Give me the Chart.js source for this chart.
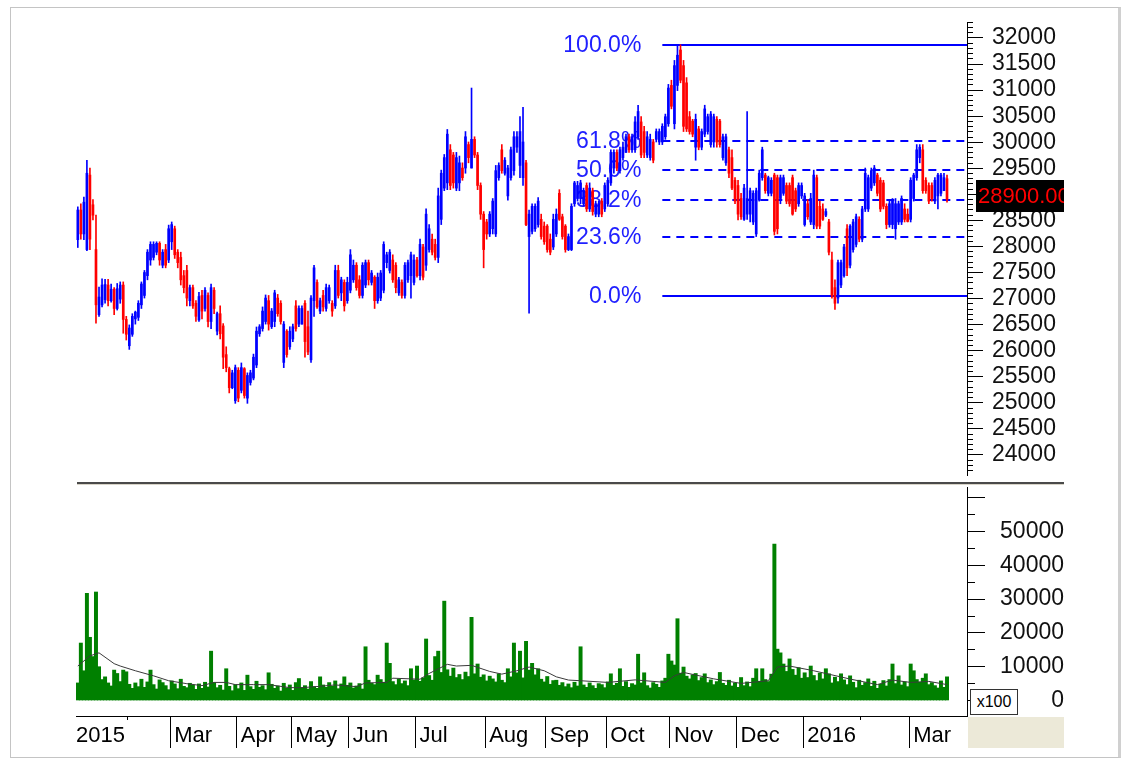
<!DOCTYPE html>
<html><head><meta charset="utf-8">
<script src="https://cdn.jsdelivr.net/npm/chart.js@4.4.1/dist/chart.umd.min.js"></script>
<style>
html,body{margin:0;padding:0;background:#fff;}
#wrap{position:relative;width:1125px;height:767px;overflow:hidden;background:#fff;}
canvas{position:absolute;left:0;top:0;}
#frame{position:absolute;left:10px;top:7px;width:1111px;height:751px;border:1px solid #c4c4c4;border-right:3px solid #d0d0d0;box-sizing:border-box;}
#divider{position:absolute;left:77px;top:482px;width:987px;height:2px;background:#4a4a4a;}
#divider2{position:absolute;left:77px;top:484px;width:987px;height:1px;background:#d8d4c8;}
#corner{position:absolute;left:968px;top:717px;width:96px;height:31px;background:#ECE9D8;}
#unit{position:absolute;left:970px;top:689px;width:48px;height:26px;border:1px solid #333;box-sizing:border-box;background:#fff;font:16px 'Liberation Sans';line-height:24px;text-align:center;color:#000;}
</style></head>
<body>
<div id="wrap">
<div id="frame"></div>
<canvas id="c1" width="1125" height="767"></canvas>
<canvas id="c2" width="1125" height="767"></canvas>
<div id="divider"></div><div id="divider2"></div>
<div id="corner"></div>
<div id="unit">x100</div>
</div>
<script>
// ---------- data ----------
const openP = [
28130,28700,28240,27940,29370,28800,27940,26690,26880,26980,
27260,26960,27180,26810,26990,27260,26600,26095,26315,26610,
26640,26880,27060,27440,27740,27790,27890,28060,27640,27940,
27740,28090,28340,27890,27790,27440,27540,26960,27210,26910,
26590,27060,26810,27060,26560,27160,26375,26710,26475,25925,
25655,25290,25040,25625,25240,25655,25090,25390,25475,25725,
26325,26425,26560,26960,26460,26560,27010,26910,25775,26375,
26075,26225,26860,26510,26510,26910,26460,25825,26960,27310,
26760,27060,26810,26960,26910,26860,27540,27110,27310,26960,
27160,27360,27640,27360,27060,27260,27690,27310,27410,26960,
27010,27160,27690,27540,27740,27640,27110,27310,27060,27360,
27440,27310,27740,27440,27990,27640,27940,28140,28040,27790,
28520,29120,29220,29855,29755,29120,29220,29505,29505,29955,
29505,30055,29755,29170,28620,28470,28240,28340,28240,29320,
29855,29405,28970,29320,29455,29905,29555,29320,29605,28190,
28290,28340,28420,28520,28390,28390,28140,27990,28240,29020,
28570,28390,27940,27940,28820,28920,28920,28820,29170,28720,
29070,28620,28620,28870,28720,28820,29220,29505,29805,29455,
29705,29805,30105,29855,29855,30105,30390,30205,29755,29705,
30005,30055,30005,30005,30105,30355,31090,30355,31090,31770,
31470,31140,30490,30405,29905,30255,29905,30155,30205,29955,
30005,30440,30405,29705,29605,29855,29705,29270,29170,28920,
28520,28620,28620,28470,28240,28890,29320,29370,29020,29020,
29370,29320,28920,29020,29170,29170,29320,29070,28820,28970,
28420,28820,28470,28420,29320,28770,28720,28600,28470,27740,
27210,27010,27260,27440,28340,27640,27940,28040,28520,28140,
28720,28720,29120,29220,29370,29270,29220,28770,28420,28420,
28340,28470,28470,28720,28620,28520,28920,29320,29705,29855,
29270,29170,29170,28870,28970,29020,29070,29300];
const highP = [
28760,28820,28950,29655,29505,28900,28600,27220,27380,27370,
27370,27280,27210,27290,27320,27320,26660,26495,26710,26760,
26960,27320,27540,27940,28090,28090,28090,28090,27940,28040,
28410,28470,28390,27940,27890,27540,27640,27260,27260,26960,
27120,27160,27210,27110,27280,27210,26740,26860,26520,26075,
25685,25625,25725,25675,25765,25675,25575,25625,25935,26455,
26500,26840,27070,27060,26810,27160,27080,26960,26560,26405,
26460,26510,26960,26860,26860,26960,26760,27060,27640,27360,
27010,27160,27280,27260,26960,27640,27640,27410,27360,27410,
27940,27740,27690,27440,27690,27740,27740,27540,27440,27490,
27540,28090,27890,27940,27840,27690,27410,27360,27690,27740,
27890,27840,27790,28140,28040,28720,28420,28240,28140,29120,
29465,29765,30245,29955,29805,29805,29735,29605,30205,30005,
31040,30105,29805,29220,28670,28520,28670,28920,29555,29605,
29955,29705,29555,29905,30205,30205,30490,30670,29655,28700,
28820,28820,28940,28620,28470,28420,28240,28620,28720,29090,
28620,28420,28240,28820,29250,29250,29270,29120,29220,29220,
29120,28870,28870,28920,29220,29320,29855,29855,29855,29905,
30005,30155,30155,30155,30490,30710,30490,30305,30205,30155,
30055,30255,30255,30355,30540,31110,31190,31570,31870,31870,
31570,31240,30590,30440,30540,30305,30255,30710,30540,30590,
30540,30490,30440,30155,30155,29905,29855,29320,29270,29020,
29190,30590,29120,29070,29120,29465,29905,29405,29350,29320,
29405,29370,29370,29370,29220,29220,29370,29120,29220,29220,
29020,28900,29020,29465,29370,28870,28820,28720,28520,27890,
27360,27740,27740,28040,28420,28420,28520,28620,28570,28770,
29505,29370,29505,29555,29405,29320,29270,28820,28900,28920,
28920,28870,28970,28820,28720,29320,29405,29955,29955,29955,
29320,29220,29220,29320,29405,29405,29405,29370];
const lowP = [
27980,28140,28130,27920,27940,28510,26530,26660,26840,26910,
26860,26930,26690,26780,26910,26335,26205,26025,26275,26510,
26580,26810,27010,27360,27640,27740,27840,27640,27590,27590,
27690,27940,27770,27590,27260,27110,26860,26860,26810,26560,
26560,26610,26760,26455,26425,26710,26305,26225,25655,25595,
25190,25270,24990,25020,25190,25090,24990,25340,25440,25675,
26275,26375,26510,26395,26425,26460,26660,26510,25675,25875,
26025,26175,26375,26460,26510,25875,25925,25775,26660,26810,
26710,26760,26760,26910,26660,26810,27010,26960,26760,26910,
27110,27310,27160,27010,27010,27210,27260,27260,26810,26910,
26960,27110,27590,27490,27310,27110,27060,27010,27010,27310,
27010,27260,27410,27360,27360,27540,27890,27840,27740,27690,
28420,29070,29090,29090,29120,29070,29070,29270,29405,29605,
29505,29705,29090,28520,27590,28140,28190,28240,28190,29270,
29405,29370,28890,29270,29370,29805,29320,29170,28400,26720,
28240,28290,28370,28140,28040,27890,27840,27940,28190,28500,
28140,27890,27920,27920,28770,28870,28820,28770,28670,28670,
28600,28570,28570,28570,28670,28770,29170,29405,29455,29405,
29655,29805,29805,29805,29805,30055,29705,29705,29705,29655,
29605,30005,29955,29955,30055,30305,30640,30255,30990,31140,
30205,30205,30155,30105,29655,29855,29855,30105,30155,29905,
29905,29905,29905,29655,29555,29320,29090,28820,28510,28520,
28500,28520,28470,28420,28190,28870,29270,29020,28970,28970,
28220,28240,28820,28980,28820,28770,28600,28670,28770,28920,
28390,28520,28420,28340,28340,28340,28500,28570,27840,27010,
26790,26910,27210,27410,27440,27590,27890,27990,28090,28090,
28670,28670,29070,29170,28970,28670,28720,28340,28370,28340,
28140,28420,28420,28470,28470,28470,28870,29270,29605,29020,
29020,28820,28870,28820,28720,28970,29070,28850];
const closeP = [
28700,28240,28850,29405,28140,28600,26880,27030,27260,27270,
26960,27180,26810,27190,27260,26600,26315,26435,26660,26740,
26910,27280,27500,27890,28040,28040,28060,27740,27890,27640,
28340,28420,27840,27690,27360,27210,27010,27210,26860,26660,
27040,26760,27160,26560,27210,26810,26710,26325,25875,25675,
25290,25575,25675,25090,25675,25140,25525,25575,25875,26375,
26460,26760,27010,26510,26760,27110,26710,26560,26510,25925,
26375,26460,26425,26810,26810,26175,25975,27010,27590,26840,
26960,26840,27210,27210,26760,27540,27060,27360,26860,27310,
27840,27640,27210,27060,27640,27690,27360,27490,26960,27410,
27490,28040,27840,27890,27360,27210,27360,27060,27640,27690,
27840,27740,27440,28040,27410,28620,28340,27890,27790,28970,
29405,29705,30155,29170,29220,29705,29605,29320,30105,29705,
30055,29755,29170,28620,27940,28240,28620,28870,29455,29555,
29455,29655,29505,29855,30105,30105,30205,30005,28420,28620,
28770,28770,28870,28190,28090,27940,27890,28520,28620,28520,
28190,27940,28190,28770,29220,29170,29220,29070,28720,29120,
28670,28820,28820,28620,29170,29270,29805,29805,29505,29855,
29905,30105,29855,30105,30390,30590,29755,29805,30105,30055,
29655,30205,30205,30305,30490,31040,30690,31470,31670,31190,
30305,30255,30205,30155,30440,29905,30205,30640,30490,30540,
30490,30005,29955,30105,30105,29405,29120,28870,28620,28570,
29120,28920,29070,29020,29070,29405,29855,29070,29320,29270,
28290,28340,29320,29320,28870,28820,28620,28720,29170,29170,
28970,28570,28920,29370,28390,28390,28520,28670,27890,27060,
26910,27690,27690,27990,27590,28390,28470,28570,28140,28720,
29405,29320,29455,29505,29020,28720,28770,28420,28820,28870,
28820,28820,28920,28520,28480,29270,29370,29855,29905,29070,
29070,28870,28920,29270,29370,29370,29320,28900];
const volume = [
5200,17000,8800,31700,18700,13000,32100,10000,6200,7000,5200,4300,9000,8000,5600,9000,8500,4800,3600,5200,
4100,6300,3900,5500,9000,4700,3400,6100,5300,4400,3200,5800,4900,3500,6300,4200,3800,5100,4600,3300,
4900,3600,5400,4000,14600,5300,3800,4500,3100,9400,4200,2900,4700,3500,5200,3000,7500,4100,3300,5700,
3900,4400,3200,8200,4800,3600,4300,2800,5100,3700,4600,3000,5300,6500,3800,4400,3400,5600,4100,3600,
7000,4600,3900,5300,4200,5800,3500,4900,7000,4500,5200,3700,4300,5000,3400,15900,6000,5100,4700,7500,
6200,5400,17000,11000,5600,4700,6300,5000,5800,4400,9400,6100,10200,5700,6700,18200,7400,6000,13000,14600,
8300,29400,9100,7200,9600,6800,7700,6200,8400,7100,24600,7900,10800,6900,7600,5800,7200,6400,5500,7900,
6000,5300,9400,7000,17000,8200,14600,6700,17500,9000,11000,7600,9400,6300,5500,7100,4800,5900,6000,4500,
5300,4100,4900,3800,5400,4300,15900,4600,3900,5200,4400,3600,5000,4700,3800,5500,7900,4500,5100,9400,
4200,5600,3900,5000,4600,13700,5200,8200,4400,3700,5300,4800,3900,5800,6600,13700,11700,10500,24200,8100,
9900,7200,6400,7600,8000,5900,6800,7900,5300,6100,4700,5600,8300,5100,4500,6000,4300,5200,3900,6800,
4400,5500,4100,6600,9400,5700,9400,6200,5600,7800,46300,15200,14100,10800,8600,12300,9200,7500,9700,6600,
8200,6800,10200,7400,5900,8100,6400,9400,7900,5200,6900,5600,7900,6100,4700,7300,5400,3800,6000,4500,
5300,6400,4200,5700,3600,4800,5900,4300,6200,10800,5000,7300,4600,5500,4100,10800,8800,6200,5400,6600,
7900,4700,5300,4400,3700,5800,3900,7000];
// volume moving average, read at these sessions
const maIdx = [0,4,7,12,14,19,25,30,36,41,45,49,52,58,63,70,74,80,85,92,95,102,104,113,116,122,125,130,136,140,145,149,154,158,162,166,175,184,194,197,200,210,219,228,231,235,243,255,264,269,275,281,287];
const maVal = [10200,13200,14100,10900,10200,8800,7300,5850,4970,4400,5350,5350,4700,4700,4700,3800,3800,4200,4600,4100,5200,5350,6600,6300,8000,10700,10200,10400,8600,7800,8800,9900,8800,7000,6050,5850,5350,6100,5350,7300,8300,6400,5060,5850,9900,10200,8800,6350,4700,6050,5350,5650,4700];
// x-axis: first session of each labelled month
const monthTickIdx = [-1.4,31,53,71,90,112,135,155,175,196,218,240,275];
const monthLabels = ['2015','Mar','Apr','May','Jun','Jul','Aug','Sep','Oct','Nov','Dec','2016','Mar'];
const minorMonthIdx = [17,259];
// axis tick labels
const priceTickLabels = [24000,24500,25000,25500,26000,26500,27000,27500,28000,28500,29000,29500,30000,30500,31000,31500,32000];
const volumeTickLabels = [0,10000,20000,30000,40000,50000];
// Fibonacci retracement
const fibHigh = 31870, fibLow = 27050, fibStartIdx = 193;
const fibRatios = [1,0.618,0.5,0.382,0.236,0];
const fibLabels = ['100.0%','61.8%','50.0%','38.2%','23.6%','0.0%'];
const lastPrice = closeP[closeP.length-1];

// ---------- layout constants ----------
const X_MIN = -0.6, X_MAX = 293.6;
const P_MIN = 23615, P_MAX = 32307;
const V_MIN = -4586, V_MAX = 63166;
const FONT = "'Liberation Sans', Arial, sans-serif";
const TRANSP = 'rgba(0,0,0,0)';

function stepTicks(from, to, step){ const t=[]; for(let v=from; v<=to; v+=step) t.push({value:v}); return t; }

const candleColor = closeP.map((c,i) => c >= openP[i] ? '#0000ff' : '#ff0000');

const fibPlugin = {
  id:'fib',
  beforeDatasetsDraw(chart){
    const {ctx, chartArea, scales:{x, y}} = chart;
    const x0 = x.getPixelForValue(fibStartIdx);
    ctx.save();
    ctx.strokeStyle = '#0000ff'; ctx.lineWidth = 2;
    ctx.font = '23px ' + FONT; ctx.fillStyle = '#2020ff';
    ctx.textAlign = 'right'; ctx.textBaseline = 'middle';
    fibRatios.forEach((r,k) => {
      const v = fibLow + r*(fibHigh - fibLow);
      const py = Math.round(y.getPixelForValue(v));
      ctx.setLineDash((r === 0 || r === 1) ? [] : [8,6]);
      ctx.beginPath(); ctx.moveTo(x0, py); ctx.lineTo(chartArea.right, py); ctx.stroke();
      ctx.fillText(fibLabels[k], x0 - 21, py + 1);
    });
    ctx.restore();
  }
};
const tagPlugin = {
  id:'tag',
  afterDraw(chart){
    const {ctx, scales:{y}} = chart;
    const cy = Math.round(y.getPixelForValue(lastPrice)) - 4;
    const bx = y.left + 9, bw = y.right - bx, bh = 32;
    ctx.save();
    ctx.fillStyle = '#000';
    ctx.fillRect(bx, cy - bh/2, bw, bh);
    ctx.beginPath(); ctx.rect(bx, cy - bh/2, bw, bh); ctx.clip();
    ctx.fillStyle = '#ff0000'; ctx.font = '22px ' + FONT;
    ctx.textAlign = 'left'; ctx.textBaseline = 'middle';
    ctx.fillText(lastPrice.toFixed(2), bx + 2, cy + 1);
    ctx.restore();
  }
};

const tickFont = {family: FONT, size: 23, lineHeight: 1.0};

new Chart(document.getElementById('c1'), {
  type:'bar',
  data:{datasets:[
    {data: lowP.map((l,i)=>({x:i, y:[l, highP[i]]})), backgroundColor: candleColor, barThickness:1, grouped:false, borderWidth:0},
    {data: openP.map((o,i)=>({x:i, y:[o, closeP[i]]})), backgroundColor: candleColor, barThickness:2, grouped:false, borderWidth:0, minBarLength:1}
  ]},
  options:{
    responsive:false, animation:false, events:[],
    layout:{padding:{left:76, right:61, top:22, bottom:292}},
    plugins:{legend:{display:false}, tooltip:{enabled:false}},
    scales:{
      x:{type:'linear', min:X_MIN, max:X_MAX, offset:false, display:false, grid:{offset:false}},
      ym:{type:'linear', position:'right', weight:0, min:P_MIN, max:P_MAX,
        afterBuildTicks:s=>{ s.ticks = stepTicks(23700, 32300, 100); },
        ticks:{autoSkip:false, callback:()=>'', font:tickFont},
        grid:{drawOnChartArea:false, tickLength:6, tickColor:'#000'},
        border:{display:true, color:'#000'},
        afterFit:s=>{s.width = 0;}},
      y:{type:'linear', position:'right', weight:1, min:P_MIN, max:P_MAX,
        afterBuildTicks:s=>{ s.ticks = priceTickLabels.map(v=>({value:v})); },
        ticks:{autoSkip:false, padding:9, color:'#111', font:tickFont, callback:v=>String(v)},
        grid:{drawOnChartArea:false, tickLength:16, tickColor:'#000'},
        border:{display:true, color:'#000'},
        afterFit:s=>{s.width = 97;}}
    }
  },
  plugins:[fibPlugin, tagPlugin]
});

new Chart(document.getElementById('c2'), {
  type:'bar',
  data:{datasets:[
    {type:'line', data: maIdx.map((v,k)=>({x:v, y:maVal[k]})), borderColor:'#3a3a3a', borderWidth:1, pointRadius:0, tension:0, order:0},
    {data: volume.map((v,i)=>({x:i, y:v})), backgroundColor:'#008000', barThickness:3.3, borderWidth:0, order:1}
  ]},
  options:{
    responsive:false, animation:false, events:[],
    layout:{padding:{left:76, right:61, top:487, bottom:19}},
    plugins:{legend:{display:false}, tooltip:{enabled:false}},
    scales:{
      x:{type:'linear', position:'bottom', weight:1, min:X_MIN, max:X_MAX, offset:false,
        afterBuildTicks:s=>{ s.ticks = monthTickIdx.map(v=>({value:v-0.5})); },
        ticks:{autoSkip:false, maxRotation:0, minRotation:0, align:'start', labelOffset:4, padding:-25,
          color:'#000', font:{family:FONT, size:22}, callback:(v,i)=>monthLabels[i]},
        grid:{drawOnChartArea:false, drawTicks:true, tickLength:32, offset:false,
          tickColor:ctx=>ctx.index===0 ? TRANSP : '#000'},
        border:{display:true, color:'#000'},
        afterFit:s=>{s.height = 32;}},
      xf:{type:'linear', position:'bottom', weight:0, min:X_MIN, max:X_MAX, offset:false,
        afterBuildTicks:s=>{ s.ticks = minorMonthIdx.map(v=>({value:v-0.5})); },
        ticks:{autoSkip:false, callback:()=>''},
        grid:{drawOnChartArea:false, tickLength:4, tickColor:'#000', offset:false},
        border:{display:false},
        afterFit:s=>{s.height = 0;}},
      ym:{type:'linear', position:'right', weight:0, min:V_MIN, max:V_MAX,
        afterBuildTicks:s=>{ s.ticks = stepTicks(0, 60000, 5000); },
        ticks:{autoSkip:false, callback:()=>'', font:tickFont},
        grid:{drawOnChartArea:false, tickLength:8, tickColor:'#000'},
        border:{display:true, color:'#000'},
        afterFit:s=>{s.width = 0;}},
      y:{type:'linear', position:'right', weight:1, min:V_MIN, max:V_MAX,
        afterBuildTicks:s=>{ s.ticks = stepTicks(0, 60000, 10000); },
        ticks:{autoSkip:false, padding:6, crossAlign:'far', color:'#111', font:tickFont,
          callback:v=>volumeTickLabels.includes(v) ? String(v) : ''},
        grid:{drawOnChartArea:false, tickLength:18, tickColor:'#000'},
        border:{display:true, color:'#000'},
        afterFit:s=>{s.width = 97;}}
    }
  }
});
</script>
</body></html>
